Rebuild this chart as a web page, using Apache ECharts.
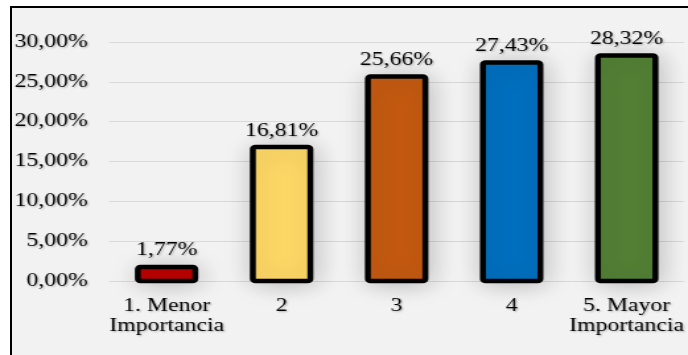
<!DOCTYPE html>
<html>
<head>
<meta charset="utf-8">
<script src="https://cdn.jsdelivr.net/npm/echarts@6/dist/echarts.min.js"></script>
<style>
  html, body { margin: 0; padding: 0; background: #ffffff; }
  body { width: 688px; height: 355px; position: relative; overflow: hidden; }
  #frame {
    position: absolute; left: 10px; top: 6px; width: 680px; height: 351px;
    background: #f2f2f2; border-top: 2px solid #000; border-left: 2px solid #000;
    box-sizing: border-box;
  }
  /* the chart is laid out narrow and widened to the wide-type look */
  #chart {
    position: absolute; left: 0; top: 0; width: 521px; height: 355px;
    transform: scaleX(1.3205); transform-origin: 0 0;
  }
</style>
</head>
<body>
<div id="frame"></div>
<div id="chart"></div>
<script>
// Importance ratings: share of answers per level
const categories = ['1. Menor\nImportancia', '2', '3', '4', '5. Mayor\nImportancia'];
const shares = [1.77, 16.81, 25.66, 27.43, 28.32];
const barColors = ['#c00000', '#ffd966', '#c55a11', '#0070c0', '#538135'];
const axisMin = 0, axisMax = 30, axisStep = 5;

const pct = v => v.toFixed(2).replace('.', ',') + '%';

const textStyle = {
  fontFamily: '"Liberation Serif", "Times New Roman", serif',
  fontSize: 18,
  color: '#000',
  textShadowColor: 'rgba(0,0,0,0.28)',
  textShadowBlur: 2,
  textShadowOffsetX: 1,
  textShadowOffsetY: 1
};

const BAR_FRACTION = 0.50;   // share of each category band taken by the bar
const OUTLINE = 4.5;         // black outline, centred on the bar edge

// Bars with an outline centred on the value edge (as spreadsheet charts draw them)
function renderBar(params, api) {
  const idx = api.value(0);
  const val = api.value(1);
  const top = api.coord([idx, val]);
  const base = api.coord([idx, 0]);
  const w = api.size([1, 0])[0] * BAR_FRACTION;
  return {
    type: 'rect',
    shape: { x: top[0] - w / 2, y: top[1], width: w, height: base[1] - top[1], r: 2 },
    style: {
      fill: barColors[idx],
      stroke: '#000',
      lineWidth: OUTLINE,
      shadowColor: 'rgba(0,0,0,0.22)',
      shadowBlur: 22,
      shadowOffsetX: 2,
      shadowOffsetY: 2
    },
    textContent: {
      style: {
        text: pct(val),
        font: '18px "Liberation Serif", "Times New Roman", serif',
        fill: '#000',
        textShadowColor: 'rgba(0,0,0,0.28)',
        textShadowBlur: 2,
        textShadowOffsetX: 1,
        textShadowOffsetY: 1
      }
    },
    textConfig: { position: 'top', distance: 5 }
  };
}

const chart = echarts.init(document.getElementById('chart'), null, { renderer: 'canvas' });
chart.setOption({
  animation: false,
  backgroundColor: 'transparent',
  grid: { left: 82.6, right: 2.3, top: 42, bottom: 74 },
  xAxis: {
    type: 'category',
    data: categories,
    axisLine: { show: false },
    axisTick: { show: false },
    axisLabel: Object.assign({ margin: 15, lineHeight: 20, interval: 0 }, textStyle)
  },
  yAxis: {
    type: 'value',
    min: axisMin, max: axisMax, interval: axisStep,
    axisLine: { show: false },
    axisTick: { show: false },
    splitLine: { lineStyle: { color: '#d9d9d9', width: 1 } },
    axisLabel: Object.assign({ margin: 16, formatter: v => pct(v) }, textStyle)
  },
  series: [{
    type: 'custom',
    renderItem: renderBar,
    encode: { x: 0, y: 1 },
    data: shares.map((v, i) => [i, v])
  }]
});
</script>
</body>
</html>
